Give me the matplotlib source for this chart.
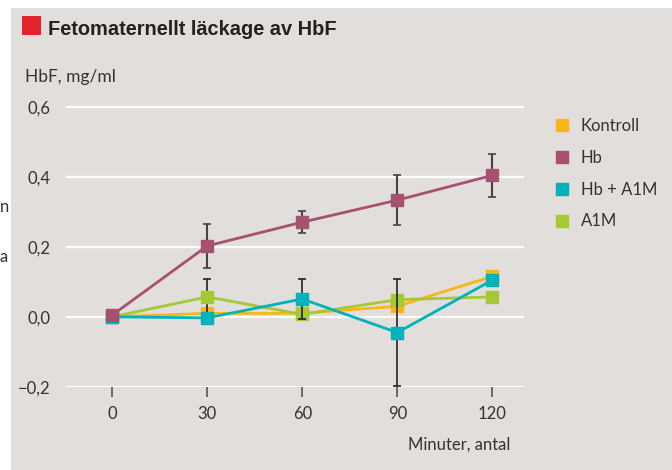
import matplotlib.pyplot as plt
from matplotlib.lines import Line2D
from matplotlib.patches import Rectangle

# data
minuter = [0, 30, 60, 90, 120]
kontroll = [0.0, 0.01, 0.01, 0.03, 0.116]
hb = [0.005, 0.203, 0.271, 0.334, 0.405]
hb_a1m = [0.0, -0.003, 0.051, -0.045, 0.105]
a1m = [0.0, 0.057, 0.007, 0.049, 0.057]

hb_err = [0.0, 0.062, 0.031, 0.071, 0.061]
hb_a1m_err = [0.0, 0.0, 0.056, 0.152, 0.0]
a1m_err = [0.0, 0.05, 0.0, 0.0, 0.0]

serier = ["Kontroll", "Hb", "Hb + A1M", "A1M"]
farger = {"Kontroll": "#fbb516", "Hb": "#a5516f", "Hb + A1M": "#00b2bb", "A1M": "#a5c935"}

bg = "#e2dedb"
textfarg = "#333333"
plt.rcParams['font.family'] = ['Lato', 'DejaVu Sans']

fig = plt.figure(figsize=(6.72, 4.70), dpi=100)
fig.patch.set_facecolor("white")
fig.patches.append(Rectangle((11 / 672, 0), 1, 462 / 470, transform=fig.transFigure,
                             facecolor=bg, edgecolor="none", zorder=-10))

ax = fig.add_axes([66 / 672, 0.1773, 458 / 672, 0.6094])
ax.set_facecolor(bg)
ax.patch.set_alpha(0)

ax.set_xlim(-14.6, 130)
ax.set_ylim(-0.2, 0.62)
for s in ax.spines.values():
    s.set_visible(False)

ax.set_yticks([-0.2, 0.0, 0.2, 0.4, 0.6])
ax.set_yticklabels(["\u22120,2", "0,0", "0,2", "0,4", "0,6"])
ax.set_xticks(minuter)
ax.set_xticklabels([str(m) for m in minuter])
ax.tick_params(axis="y", length=0, pad=11, labelsize=12, labelcolor=textfarg)
ax.tick_params(axis="x", length=7, width=1.2, color="#555555", pad=7,
               labelsize=12, labelcolor=textfarg)
ax.yaxis.grid(True, color="white", linewidth=1.6)
ax.set_axisbelow(True)

# linjer och markorer
lw, ms = 2.0, 8
ax.plot(minuter, kontroll, color=farger["Kontroll"], lw=lw, marker="s", ms=ms, zorder=3)
ax.errorbar(minuter, a1m, yerr=a1m_err, color=farger["A1M"], lw=lw, marker="s", ms=ms,
            ecolor="#222222", elinewidth=1.2, capsize=3.2, capthick=1.2, zorder=4)
ax.errorbar(minuter, hb_a1m, yerr=hb_a1m_err, color=farger["Hb + A1M"], lw=lw, marker="s", ms=ms,
            ecolor="#222222", elinewidth=1.2, capsize=3.2, capthick=1.2, zorder=5)
ax.errorbar(minuter, hb, yerr=hb_err, color=farger["Hb"], lw=lw, marker="s", ms=ms,
            ecolor="#444444", elinewidth=1.5, capsize=3.2, capthick=1.2, zorder=6)

# legend
handles = [Line2D([], [], ls="none", marker="s", ms=8, color=farger[s]) for s in serier]
leg = fig.legend(handles, serier, loc="upper left", bbox_to_anchor=(539 / 672, 1 - 103 / 470),
                 frameon=False, fontsize=12, labelspacing=0.95, handletextpad=0.6,
                 handlelength=1.0, labelcolor=textfarg)

# titel
fig.patches.append(Rectangle((22 / 672, 1 - 35 / 470), 19 / 672, 19 / 470,
                             transform=fig.transFigure, facecolor="#e3242b", edgecolor="none"))
fig.text(48 / 672, 1 - 35 / 470, "Fetomaternellt läckage av HbF", fontsize=14.4,
         fontweight="bold", color="#222222", va="baseline",
         family=["Liberation Sans", "DejaVu Sans"])
fig.text(25 / 672, 1 - 77 / 470, "HbF, mg/ml", fontsize=12.5, color=textfarg, va="center")
fig.text(510 / 672, 1 - 445 / 470, "Minuter, antal", fontsize=12, color=textfarg,
         va="center", ha="right")

# text fran grannspalten
fig.text(0, 1 - 207 / 470, "n", fontsize=12, color=textfarg, va="center", ha="left")
fig.text(0, 1 - 257 / 470, "a", fontsize=12, color=textfarg, va="center", ha="left")

fig.savefig("out.png", dpi=100)
